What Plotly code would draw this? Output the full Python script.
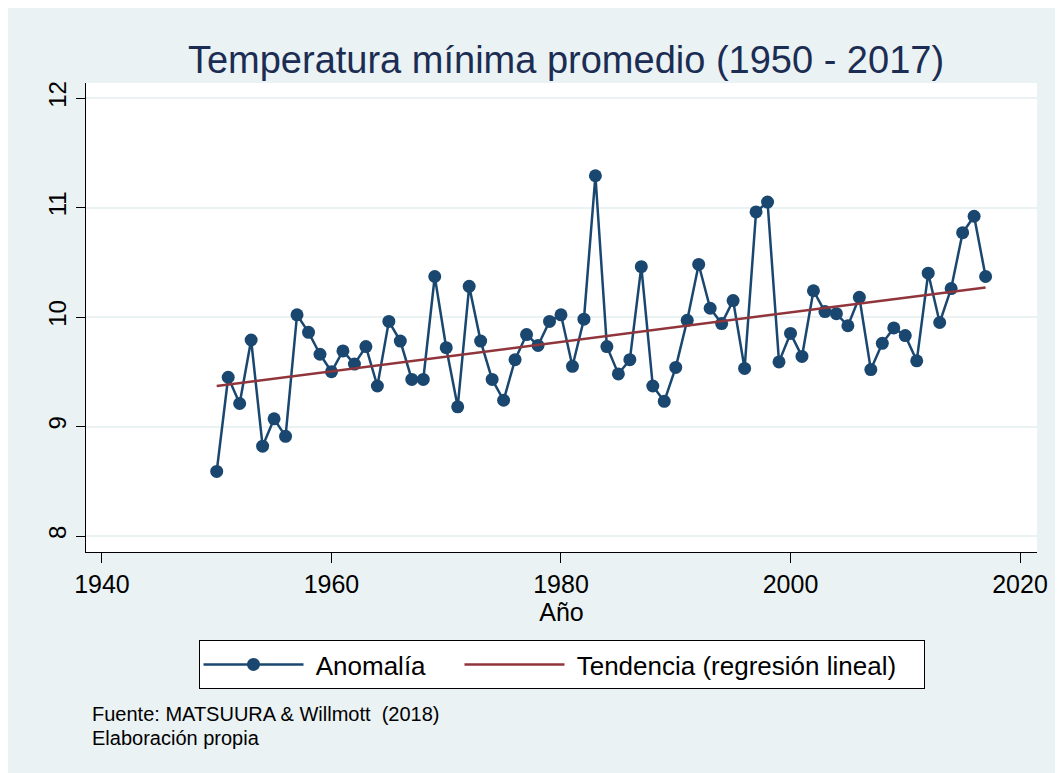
import plotly.graph_objects as go

# DATA
years = list(range(1950, 2018))
temp_min = [8.59, 9.45, 9.21, 9.79, 8.82, 9.07, 8.91, 10.02, 9.86, 9.66,
            9.50, 9.69, 9.57, 9.73, 9.37, 9.96, 9.78, 9.43, 9.43, 10.37,
            9.72, 9.18, 10.28, 9.78, 9.43, 9.24, 9.61, 9.84, 9.74, 9.96,
            10.02, 9.55, 9.98, 11.29, 9.73, 9.48, 9.61, 10.46, 9.37, 9.23,
            9.54, 9.97, 10.48, 10.08, 9.94, 10.15, 9.53, 10.96, 11.05, 9.59,
            9.85, 9.64, 10.24, 10.05, 10.03, 9.92, 10.18, 9.52, 9.76, 9.90,
            9.83, 9.60, 10.40, 9.95, 10.26, 10.77, 10.92, 10.37]
trend_years = [1950, 2017]
trend_vals = [9.37, 10.27]

x_ticks = [1940, 1960, 1980, 2000, 2020]
y_ticks = [8, 9, 10, 11, 12]

NAVY = '#1a476f'
MAROON = '#90353b'
BG = '#eaf2f3'
FONT = 'Liberation Sans, Arial, sans-serif'
NB = '\u00a0'  # non-breaking space, used to pad legend entries like Stata

fig = go.Figure()

fig.add_trace(go.Scatter(
    x=years, y=temp_min, name=NB + 'Anomalía' + NB * 4, mode='lines+markers',
    legendgroup='a',
    line=dict(color=NAVY, width=2.5),
    marker=dict(color=NAVY, size=13),
))
fig.add_trace(go.Scatter(
    x=trend_years, y=trend_vals, name=NB + 'Tendencia (regresión lineal)' + NB * 3,
    legendgroup='b',
    mode='lines', line=dict(color=MAROON, width=2.5),
))

# source notes below the legend
fig.add_annotation(
    x=4/951, y=-162/469, xref='paper', yref='paper',
    text='Fuente: MATSUURA & Willmott  (2018)',
    showarrow=False, xanchor='left', yanchor='middle',
    font=dict(size=20, color='black', family=FONT),
)
fig.add_annotation(
    x=4/951, y=-186/469, xref='paper', yref='paper',
    text='Elaboración propia',
    showarrow=False, xanchor='left', yanchor='middle',
    font=dict(size=20, color='black', family=FONT),
)

fig.update_layout(
    width=1063, height=773,
    margin=dict(l=78, r=34, t=75, b=229),
    paper_bgcolor=BG, plot_bgcolor='white',
    font=dict(family=FONT, color='black'),
    title=dict(text='Temperatura mínima promedio (1950 - 2017)',
               x=558/1063, xanchor='center', y=1 - 52/773, yanchor='middle',
               font=dict(size=38, color='#1c2d54', family=FONT)),
    showlegend=True,
    legend=dict(orientation='h', x=0.5, xanchor='center',
                y=-88/469, yanchor='top',
                bgcolor='white', bordercolor='black', borderwidth=1,
                font=dict(size=26, family=FONT),
                itemwidth=100, tracegroupgap=0),
)

fig.update_xaxes(
    range=[1938.61, 2021.48], tickvals=x_ticks,
    showline=True, linecolor='black', linewidth=1,
    ticks='outside', ticklen=10, tickcolor='black',
    tickfont=dict(size=25), showgrid=False, zeroline=False,
    title=dict(text='Año', font=dict(size=25), standoff=4),
)
fig.update_yaxes(
    range=[7.854, 12.137], tickvals=y_ticks, tickangle=-90,
    showline=True, linecolor='black', linewidth=1,
    ticks='outside', ticklen=9, tickcolor='black',
    tickfont=dict(size=24), showgrid=True, gridcolor=BG, gridwidth=2,
    zeroline=False,
)

fig.write_html('out.html')
